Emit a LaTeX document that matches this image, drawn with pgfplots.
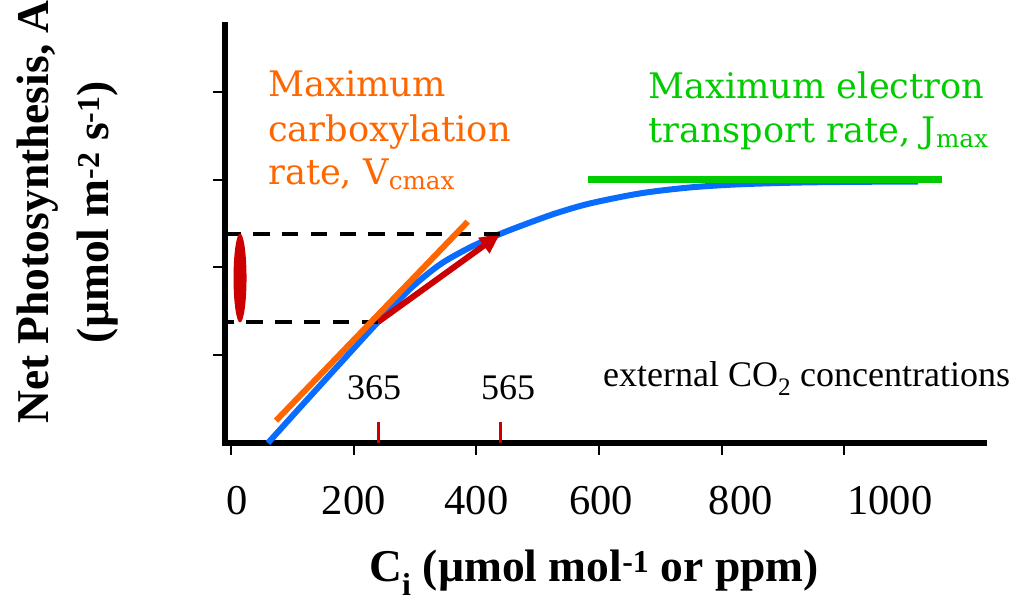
\documentclass[border=0pt]{standalone}
\usepackage{pgfplots}
\pgfplotsset{compat=1.18}
\usepackage{fontspec}
\setmainfont{Liberation Serif}
\newfontfamily\annotfont{DejaVu Serif}
\usetikzlibrary{arrows.meta}

\definecolor{curveblue}{RGB}{10,108,255}
\definecolor{vorange}{RGB}{255,102,0}
\definecolor{jgreen}{RGB}{0,204,0}
\definecolor{markred}{RGB}{204,0,0}

\begin{document}
\begin{tikzpicture}[x=1pt,y=1pt]
\useasboundingbox (0,0) rectangle (1021,601);
\begin{axis}[
  at={(225pt,158pt)}, anchor=south west,
  scale only axis, width=759pt, height=418pt,
  xmin=-9.8, xmax=1227.4, ymin=0, ymax=4.76,
  axis x line=bottom, axis y line=left,
  axis line style={line width=5.5pt, -, line cap=rect},
  tick align=outside,
  major tick length=12pt,
  tick style={line width=2pt, black},
  xtick={0,200,400,600,800,1000},
  xticklabels={\hspace*{12pt}0, 200, 400, \hspace*{4pt}600, \hspace*{38pt}800, \hspace*{91pt}1000},
  xticklabel style={font=\fontsize{42.5}{50}\selectfont, anchor=base, yshift=-60pt},
  ytick={1,2,3,4}, yticklabels={},
  xlabel={C\textsubscript{i} (µmol mol\textsuperscript{-1} or ppm)},
  xlabel style={at={(axis description cs:0.4862,-0.3325)}, anchor=base,
    font=\fontsize{45.5}{54}\selectfont\bfseries},
  ylabel={Net Photosynthesis, A\\(µmol m\textsuperscript{-2} s\textsuperscript{-1})},
  ylabel style={at={(axis description cs:-0.2069,0.5526)}, anchor=center, rotate=0,
    align=center, font=\fontsize{45.5}{60}\selectfont\bfseries},
  clip=false,
]

% red markers of internal Ci at the two external concentrations
\addplot[markred, line width=3pt] coordinates {(239.6,0) (239.6,0.24)};
\addplot[markred, line width=3pt] coordinates {(438.5,0) (438.5,0.24)};

% A/Ci response curve
\addplot[curveblue, line width=6pt, smooth, tension=0.5] table {
X Y
60.3 0
112.5 0.404
177.7 0.905
239.6 1.378
291.8 1.754
340.7 2.033
389.6 2.227
438.5 2.380
487.4 2.511
531.4 2.620
585.2 2.728
666.7 2.842
748.2 2.910
829.7 2.946
927.5 2.966
1025.3 2.974
1119.8 2.977
};

% Jmax plateau
\addplot[jgreen, line width=6.5pt] coordinates {(581.9,3.0) (1158.9,3.0)};

% change in A between the two concentrations
\addplot[markred, line width=6pt, -{Triangle[length=20pt,width=18pt]}]
  coordinates {(239.6,1.378) (438.5,2.38)};

% dashed guides to the A axis
\addplot[black, line width=4.5pt, dash pattern=on 16.5pt off 12.3pt]
  coordinates {(438.5,2.38) (-5.7,2.38)};
\addplot[black, line width=4.5pt, dash pattern=on 16.5pt off 12.3pt]
  coordinates {(239.6,1.378) (-5.7,1.378)};

% initial slope (Vcmax)
\addplot[vorange, line width=6pt] coordinates {(73.3,0.254) (385.8,2.52)};

% range of A marked on the axis
\fill[markred] (axis cs:14.7,1.879) ellipse [x radius=6.5pt, y radius=44.5pt];
\end{axis}

% annotations
\begin{scope}[every node/.style={inner sep=0pt}]
\node[anchor=base west, text=vorange, font=\annotfont\fontsize{35.2}{40}\selectfont] at (268,504) {Maximum};
\node[anchor=base west, text=vorange, font=\annotfont\fontsize{35.2}{40}\selectfont] at (268,459) {carboxylation};
\node[anchor=base west, text=vorange, font=\annotfont\fontsize{35.2}{40}\selectfont] at (268,416) {rate, V\textsubscript{cmax}};
\node[anchor=base west, text=jgreen, font=\annotfont\fontsize{35.2}{40}\selectfont] at (648,502) {Maximum electron};
\node[anchor=base west, text=jgreen, font=\annotfont\fontsize{35.2}{40}\selectfont] at (648,458) {transport rate, J\textsubscript{max}};
\node[anchor=base, font=\fontsize{36}{42}\selectfont] at (374,201) {365};
\node[anchor=base, font=\fontsize{36}{42}\selectfont] at (508,201) {565};
\node[anchor=base west, font=\fontsize{36}{42}\selectfont] at (603,214) {external CO\textsubscript{2} concentrations};
\end{scope}
\end{tikzpicture}
\end{document}
